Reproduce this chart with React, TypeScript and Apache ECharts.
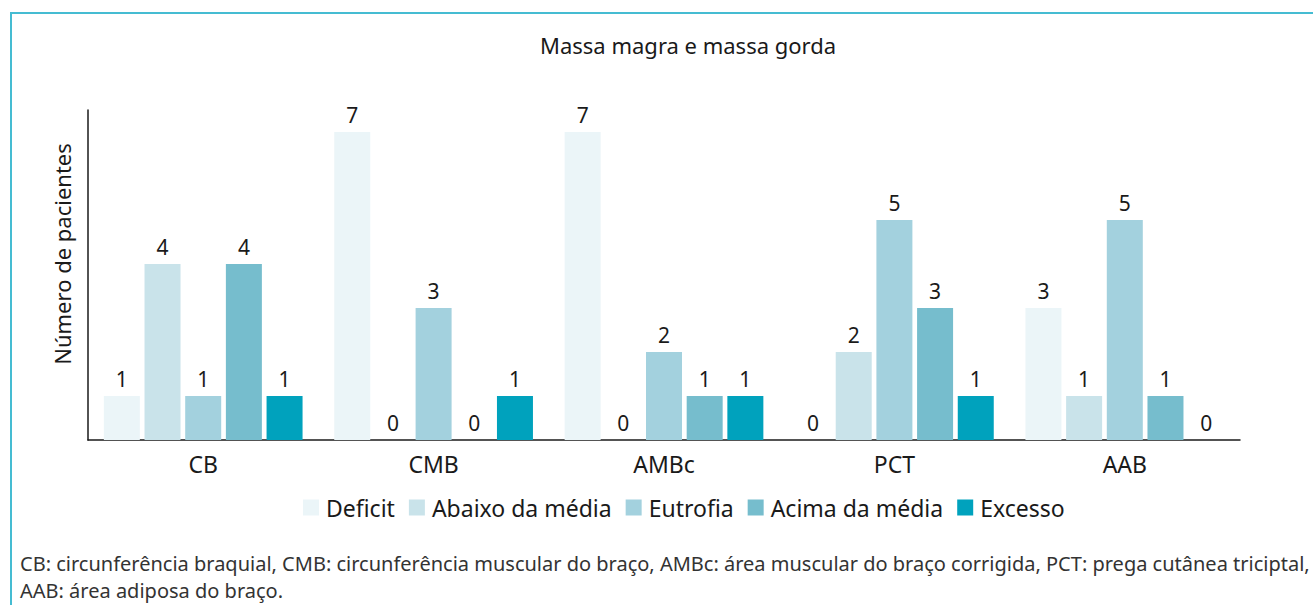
import React, { useEffect, useRef } from "react";
import * as echarts from "echarts";

const categories = ["CB", "CMB", "AMBc", "PCT", "AAB"];
const seriesNames = ["Deficit", "Abaixo da média", "Eutrofia", "Acima da média", "Excesso"];
const deficit = [1, 7, 7, 0, 3];
const abaixo = [4, 0, 0, 2, 1];
const eutrofia = [1, 3, 2, 5, 5];
const acima = [4, 0, 1, 3, 1];
const excesso = [1, 1, 1, 1, 0];
const seriesValues = [deficit, abaixo, eutrofia, acima, excesso];
const colors = ["#ebf5f8", "#c9e3ea", "#a3d1de", "#76bdcd", "#00a2bd"];

const title = "Massa magra e massa gorda";
const yAxisName = "Número de pacientes";
const footnote1 =
  "CB: circunferência braquial, CMB: circunferência muscular do braço, AMBc: área muscular do braço corrigida, PCT: prega cutânea triciptal,";
const footnote2 = "AAB: área adiposa do braço.";

const FONT = "'Noto Sans', 'Open Sans', sans-serif";

export default function App() {
  const ref = useRef<HTMLDivElement>(null);
  useEffect(() => {
    document.body.style.margin = "0";
    const chart = echarts.init(ref.current!, null, { renderer: "svg" });
    chart.setOption({
      animation: false,
      backgroundColor: "#ffffff",
      textStyle: { fontFamily: FONT },
      title: {
        text: title,
        left: 535,
        top: 29,
        textStyle: { fontFamily: FONT, fontSize: 22, fontWeight: "normal", color: "#1a1a1a" },
      },
      legend: {
        top: 491,
        left: 298,
        itemWidth: 16,
        itemHeight: 16,
        itemGap: 14,
        icon: "rect",
        textStyle: { fontFamily: FONT, fontSize: 23, color: "#1a1a1a", padding: [0, 0, 0, 2] },
        data: seriesNames,
      },
      grid: { left: 88, right: 73, top: 110, bottom: 165, containLabel: false },
      xAxis: {
        type: "category",
        data: categories,
        axisLine: { lineStyle: { color: "#1a1a1a", width: 1.5 } },
        axisTick: { show: false },
        axisLabel: { fontFamily: FONT, fontSize: 23, color: "#1a1a1a", margin: 12 },
      },
      yAxis: {
        type: "value",
        min: 0,
        max: 7.5,
        axisLine: { show: true, lineStyle: { color: "#1a1a1a", width: 1.5 } },
        axisTick: { show: false },
        axisLabel: { show: false },
        splitLine: { show: false },
      },
      series: seriesNames.map((name, i) => ({
        name,
        type: "bar",
        data: seriesValues[i],
        barWidth: 36,
        barGap: "13%",
        itemStyle: { color: colors[i] },
        label: {
          show: true,
          position: "top",
          distance: 7,
          fontFamily: FONT,
          fontSize: 21,
          color: "#1a1a1a",
        },
      })),
      graphic: [
        {
          type: "line",
          shape: { x1: 11, y1: 13, x2: 11, y2: 605 },
          style: { stroke: "#45bcd2", lineWidth: 2 },
        },
        {
          type: "line",
          shape: { x1: 10, y1: 13, x2: 1313, y2: 13 },
          style: { stroke: "#45bcd2", lineWidth: 2 },
        },
        {
          type: "text",
          x: 62,
          y: 254,
          rotation: Math.PI / 2,
          style: {
            text: yAxisName,
            fontFamily: FONT,
            fontSize: 22,
            fill: "#1a1a1a",
            align: "center",
            verticalAlign: "middle",
          },
        },
        {
          type: "text",
          left: 20,
          top: 553,
          style: { text: footnote1, fontFamily: FONT, fontSize: 20, fill: "#333333" },
        },
        {
          type: "text",
          left: 20,
          top: 580,
          style: { text: footnote2, fontFamily: FONT, fontSize: 20, fill: "#333333" },
        },
      ],
    });
    return () => chart.dispose();
  }, []);
  return <div ref={ref} style={{ width: 1313, height: 605 }} />;
}
